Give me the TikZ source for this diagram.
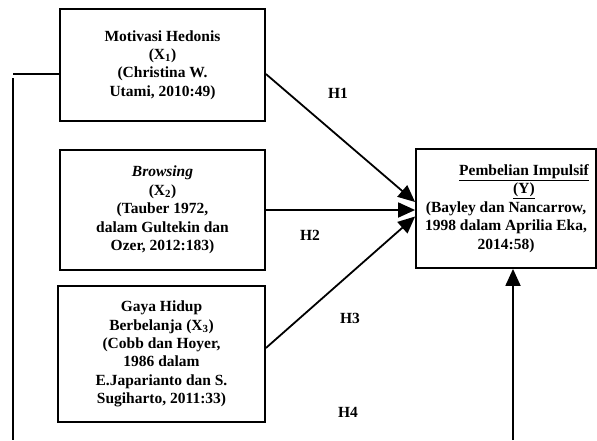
\documentclass[tikz,border=0pt]{standalone}
\usepackage{fontspec}
\setmainfont{Liberation Serif}
\usetikzlibrary{arrows.meta}

\begin{document}
\begin{tikzpicture}[x=1pt, y=-1pt, line width=1.8pt,
    font=\fontsize{15.5}{18.4}\selectfont\bfseries,
    >={Triangle[length=17pt,width=15pt]},
    varbox/.style={draw, align=center, inner sep=2pt}]
    \useasboundingbox (0,0) rectangle (597,440);

    \node[varbox, minimum width=205, minimum height=112] (x1) at (162.5,65) {Motivasi Hedonis\\(X\textsubscript{1})\\(Christina W.\\Utami, 2010:49)};
    \node[varbox, minimum width=205, minimum height=120] (x2) at (162.5,210) {\textit{Browsing}\\(X\textsubscript{2})\\(Tauber 1972,\\dalam Gultekin dan\\Ozer, 2012:183)};
    \node[varbox, minimum width=207, minimum height=136] (x3) at (161.5,354) {Gaya Hidup\\Berbelanja (X\textsubscript{3})\\(Cobb dan Hoyer,\\1986 dalam\\E.Japarianto dan S.\\Sugiharto, 2011:33)};
    \node[varbox, minimum width=180, minimum height=119] (y) at (506,208.5) {\hspace*{36pt}\underline{Pembelian Impulsif}\\\hspace*{36pt}\underline{(Y)}\\(Bayley dan Nancarrow,\\1998 dalam Aprilia Eka,\\2014:58)};

    \draw[->] ([yshift=-9pt]x1.east) -- ([yshift=6.5pt]y.west);
    \draw[->] (x2.east) -- (x2.east -| y.west);
    \draw[->] ([yshift=6pt]x3.east) -- ([yshift=-8pt]y.west);

    \node (h1) at (338,93) {H1};
    \node (h2) at (310,235) {H2};
    \node (h3) at (350,318) {H3};
    \node (h4) at (348,412) {H4};

    % line to the left edge and down
    \coordinate (lt) at (13,78);
    \coordinate (lb) at (13,440);
    \coordinate (rb) at (513,440);
    \draw ([yshift=-9pt]x1.west) -- (lt |- {(0,74)});
    \draw (lt) -- (lb);
    \draw[->] (rb) -- (rb |- y.south);

\end{tikzpicture}
\end{document}
